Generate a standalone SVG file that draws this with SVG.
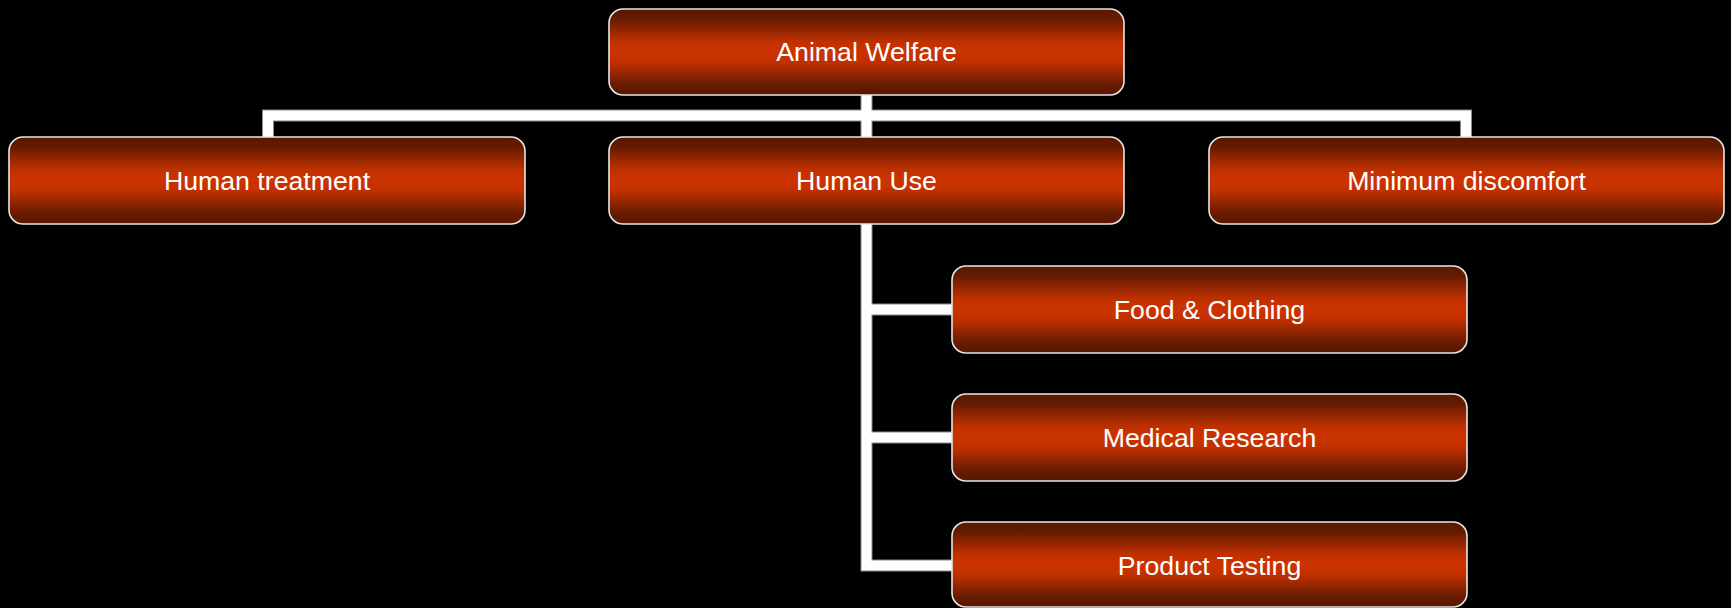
<svg xmlns="http://www.w3.org/2000/svg" width="1731" height="608" viewBox="0 0 1731 608">
<defs>
<linearGradient id="g" x1="0" y1="0" x2="0" y2="1">
<stop offset="0" stop-color="#5a1700"/>
<stop offset="0.12" stop-color="#661b00"/>
<stop offset="0.38" stop-color="#c13000"/>
<stop offset="0.5" stop-color="#cc3300"/>
<stop offset="0.62" stop-color="#c13000"/>
<stop offset="0.88" stop-color="#661b00"/>
<stop offset="1" stop-color="#5a1700"/>
</linearGradient>
</defs>
<style>
.box{fill:url(#g);stroke:#e6e6e6;stroke-width:1.6}
.lbl{font-family:"Liberation Sans",Arial,sans-serif;font-size:26.7px;fill:#ffffff;text-anchor:middle}
.cO{fill:none;stroke:#8a8a8a;stroke-width:12;stroke-linejoin:miter}
.cI{fill:none;stroke:#ffffff;stroke-width:10;stroke-linejoin:miter}
</style>
<rect x="0" y="0" width="1731" height="608" fill="#000000"/>
<g id="connectors">
<path class="cO" d="M866.5 95 V137 M268 137 V115.5 H1466 V137"/>
<path class="cO" d="M866.5 224 V565.5 H952 M866.5 309.5 H952 M866.5 437.5 H952"/>
<path class="cI" d="M866.5 95 V137 M268 137 V115.5 H1466 V137"/>
<path class="cI" d="M866.5 224 V565.5 H952 M866.5 309.5 H952 M866.5 437.5 H952"/>
</g>
<g id="animal-welfare">
<rect class="box" x="609" y="9" width="515" height="86" rx="14"/>
<text class="lbl" x="866.5" y="61">Animal Welfare</text>
</g>
<g id="human-treatment">
<rect class="box" x="9" y="137" width="516" height="87" rx="14"/>
<text class="lbl" x="267" y="190">Human treatment</text>
</g>
<g id="human-use">
<rect class="box" x="609" y="137" width="515" height="87" rx="14"/>
<text class="lbl" x="866.5" y="190">Human Use</text>
</g>
<g id="minimum-discomfort">
<rect class="box" x="1209" y="137" width="515" height="87" rx="14"/>
<text class="lbl" x="1466.5" y="190">Minimum discomfort</text>
</g>
<g id="food-clothing">
<rect class="box" x="952" y="266" width="515" height="87" rx="14"/>
<text class="lbl" x="1209.5" y="319">Food &amp; Clothing</text>
</g>
<g id="medical-research">
<rect class="box" x="952" y="394" width="515" height="87" rx="14"/>
<text class="lbl" x="1209.5" y="447">Medical Research</text>
</g>
<g id="product-testing">
<rect class="box" x="952" y="522" width="515" height="85" rx="14"/>
<text class="lbl" x="1209.5" y="575">Product Testing</text>
</g>
</svg>
